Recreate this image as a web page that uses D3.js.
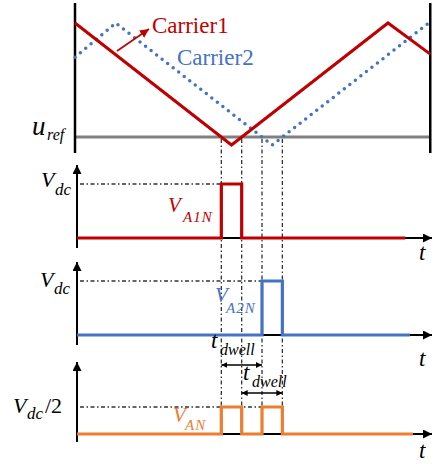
<!DOCTYPE html>
<html>
<head>
<meta charset="utf-8">
<script src="https://cdn.jsdelivr.net/npm/d3@7"></script>
<style>
  body { margin: 0; background: #fff; }
  text { font-family: "Liberation Serif", "Times New Roman", serif; font-style: italic; }
</style>
</head>
<body>
<script>
// Carrier-based PWM with two interleaved carriers

var w = 435;
var h = 464;

// time in units of half a carrier period
var carrier1 = [[0, 1], [1, -1], [2, 1], [2.27, 0.49]];
var carrier2 = [[0, 0.44], [0.26, 1], [1.26, -1], [2.26, 1], [2.27, 0.98]];
var uRef = -0.87;

// switching instants (carrier crossings of u_ref)
var switchTimes = [0.935, 1.065, 1.195, 1.325];

// output voltages (in units of Vdc)
var vA1N = [[0.013, 0], [0.935, 0], [0.935, 1], [1.065, 1], [1.065, 0], [2.11, 0]];
var vA2N = [[0.013, 0], [1.195, 0], [1.195, 1], [1.325, 1], [1.325, 0], [2.14, 0]];
var vAN = [[0.013, 0], [0.935, 0], [0.935, 0.5], [1.065, 0.5], [1.065, 0], [1.195, 0],
           [1.195, 0.5], [1.325, 0.5], [1.325, 0], [2.16, 0]];

var red = "#c00000", blue = "#4472c4", orange = "#ed7d31";

var svg = d3.select("body")
            .append("svg")
            .attr("width", w)
            .attr("height", h);

var defs = svg.append("defs");
function marker(id, color, size, orient) {
  defs.append("marker")
      .attr("id", id)
      .attr("viewBox", "0 0 10 10")
      .attr("refX", 10).attr("refY", 5)
      .attr("markerUnits", "userSpaceOnUse")
      .attr("markerWidth", size).attr("markerHeight", size)
      .attr("orient", orient)
    .append("path")
      .attr("d", "M0,0 L10,5 L0,10 Z")
      .attr("fill", color);
}
marker("arrBlack", "#000", 9, "auto");
marker("arrRed", red, 9, "auto");
marker("arrSmall", "#000", 6, "auto-start-reverse");

var x = d3.scaleLinear().domain([0, 1]).range([75, 231.5]);
var yC = d3.scaleLinear().domain([-1, 1]).range([145, 23]);

var dashDot = "4,2.5,1.5,2.5";

// ---- top panel: carriers
svg.append("line")
   .attr("x1", x(0)).attr("x2", x(2.27))
   .attr("y1", yC(uRef)).attr("y2", yC(uRef))
   .attr("stroke", "#808080").attr("stroke-width", 3);

[0, 2.27].forEach(function(t) {
  svg.append("line")
     .attr("x1", x(t)).attr("x2", x(t))
     .attr("y1", 3).attr("y2", 153)
     .attr("stroke", "#000").attr("stroke-width", 2.5);
});

var lineC = d3.line()
  .x(function(d) { return x(d[0]); })
  .y(function(d) { return yC(d[1]); });

svg.append("path")
   .datum(carrier2)
   .attr("d", lineC)
   .attr("fill", "none")
   .attr("stroke", blue)
   .attr("stroke-width", 3.5)
   .attr("stroke-linecap", "round")
   .attr("stroke-dasharray", "0,7");

svg.append("path")
   .datum(carrier1)
   .attr("d", lineC)
   .attr("fill", "none")
   .attr("stroke", red)
   .attr("stroke-width", 3);

svg.append("line")
   .attr("x1", 117).attr("y1", 51).attr("x2", 149).attr("y2", 29)
   .attr("stroke", red).attr("stroke-width", 1.6)
   .attr("marker-end", "url(#arrRed)");

svg.append("text").text("Carrier1")
   .attr("x", 152).attr("y", 33)
   .attr("font-size", 23).style("font-style", "normal").attr("fill", red);
svg.append("text").text("Carrier2")
   .attr("x", 177).attr("y", 65)
   .attr("font-size", 23).style("font-style", "normal").attr("fill", blue);

svg.append("text").text("u").attr("x", 32).attr("y", 135).attr("font-size", 27);
svg.append("text").text("ref").attr("x", 47).attr("y", 140).attr("font-size", 16);

// ---- vertical dash-dot guides at switching instants
svg.selectAll("line.guide")
   .data(switchTimes)
   .enter()
   .append("line")
   .attr("class", "guide")
   .attr("x1", function(d) { return x(d); })
   .attr("x2", function(d) { return x(d); })
   .attr("y1", 139).attr("y2", 407)
   .attr("stroke", "#333").attr("stroke-width", 1.3)
   .attr("stroke-dasharray", dashDot);

// ---- voltage panels
var panels = [
  { data: vA1N, color: red, base: 238, top: 184, axisTop: 165, axisBot: 248, level: 1, tY: 260,
    name: "A1N", nameX: 168, nameY: 212, subX: 183, subY: 222,
    vX: 41, vY: 187, dcX: 55, dcY: 195, half: false },
  { data: vA2N, color: blue, base: 335, top: 281, axisTop: 262, axisBot: 345, level: 1, tY: 366,
    name: "A2N", nameX: 215, nameY: 302, subX: 226, subY: 313,
    vX: 40, vY: 287, dcX: 54, dcY: 294, half: false },
  { data: vAN, color: orange, base: 434, top: 380, axisTop: 362, axisBot: 442, level: 0.5, tY: 458,
    name: "AN", nameX: 173, nameY: 422, subX: 185, subY: 430,
    vX: 13, vY: 413, dcX: 27, dcY: 419, half: true }
];

panels.forEach(function(p) {
  var y = d3.scaleLinear().domain([0, 1]).range([p.base, p.top]);
  var lastSwitch = d3.max(p.data.filter(function(d) { return d[1] > 0; }), function(d) { return d[0]; });

  // reference level
  svg.append("line")
     .attr("x1", 80).attr("x2", x(lastSwitch))
     .attr("y1", y(p.level)).attr("y2", y(p.level))
     .attr("stroke", "#333").attr("stroke-width", 1.3)
     .attr("stroke-dasharray", dashDot);

  // axes
  svg.append("line")
     .attr("x1", 77).attr("x2", 77)
     .attr("y1", p.axisBot).attr("y2", p.axisTop)
     .attr("stroke", "#000").attr("stroke-width", 2)
     .attr("marker-end", "url(#arrBlack)");
  svg.append("line")
     .attr("x1", 76).attr("x2", 432)
     .attr("y1", p.base).attr("y2", p.base)
     .attr("stroke", "#000").attr("stroke-width", 2)
     .attr("marker-end", "url(#arrBlack)");

  var stepLine = d3.line()
    .x(function(d) { return x(d[0]); })
    .y(function(d) { return y(d[1]); });

  svg.append("path")
     .datum(p.data)
     .attr("d", stepLine)
     .attr("fill", "none")
     .attr("stroke", p.color)
     .attr("stroke-width", 3.2);

  // labels
  svg.append("text").text("t").attr("x", 419).attr("y", p.tY).attr("font-size", 23);
  svg.append("text").text("V").attr("x", p.vX).attr("y", p.vY).attr("font-size", 22);
  svg.append("text").text("dc").attr("x", p.dcX).attr("y", p.dcY).attr("font-size", 17);
  if (p.half) {
    svg.append("text").text("/2").attr("x", 45).attr("y", p.vY)
       .attr("font-size", 22).style("font-style", "normal");
  }
  svg.append("text").text("V").attr("x", p.nameX).attr("y", p.nameY)
     .attr("font-size", 21).attr("fill", p.color);
  svg.append("text").text(p.name).attr("x", p.subX).attr("y", p.subY)
     .attr("font-size", 15).attr("letter-spacing", 1).attr("fill", p.color);
});

// ---- dwell time annotations
var dwell = [
  { from: switchTimes[0], to: switchTimes[2], y: 365, tx: 211, ty: 348 },
  { from: switchTimes[1], to: switchTimes[3], y: 393, tx: 243, ty: 380 }
];

dwell.forEach(function(d) {
  svg.append("line")
     .attr("x1", x(d.from)).attr("x2", x(d.to))
     .attr("y1", d.y).attr("y2", d.y)
     .attr("stroke", "#000").attr("stroke-width", 1.3)
     .attr("marker-start", "url(#arrSmall)")
     .attr("marker-end", "url(#arrSmall)");
  svg.append("text").text("t").attr("x", d.tx).attr("y", d.ty).attr("font-size", 23);
  svg.append("text").text("dwell").attr("x", d.tx + 9).attr("y", d.ty + 7).attr("font-size", 16);
});
</script>
</body>
</html>
